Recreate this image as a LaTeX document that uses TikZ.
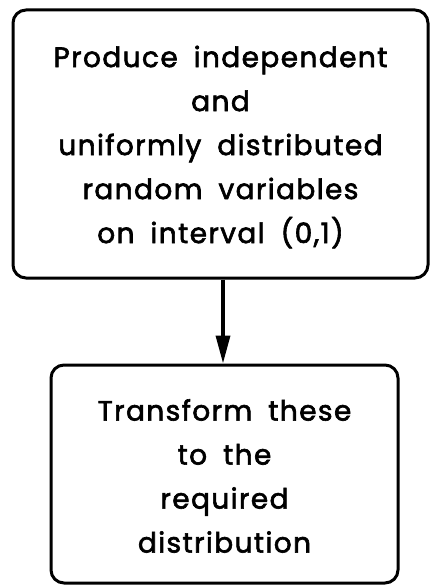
\documentclass[tikz,border=0pt]{standalone}
\usepackage{fontspec}
\setmainfont{Poppins}[FakeBold=2.2, LetterSpace=5, WordSpace=1.8]
\usetikzlibrary{arrows.meta}
\begin{document}
\begin{tikzpicture}[x=1pt,y=-1pt,
  boxline/.style={draw=black, line width=3pt, rounded corners=13pt},
  boxtext/.style={align=center, font=\fontsize{28}{44}\selectfont, inner sep=0pt},
  flowarrow/.style={draw=black, line width=3.5pt, -{Triangle[length=28pt,width=14pt]}}]
\useasboundingbox (0,0) rectangle (431,586);
\node[boxline, minimum width=415pt, minimum height=268pt] (top) at (220.5,144) {};
\node[boxline, minimum width=347pt, minimum height=218pt] (bot) at (224.5,474) {};
\node[boxtext] (toptext) at ([yshift=-3pt]top.center) {Produce independent\\and\\uniformly distributed\\random variables\\on interval (0,1)};
\node[boxtext] (bottext) at ([yshift=-2pt]bot.center) {Transform these\\to the\\required\\distribution};
\draw[flowarrow] (top.south -| 223,0) -- (bot.north -| 223,0);
\end{tikzpicture}
\end{document}
